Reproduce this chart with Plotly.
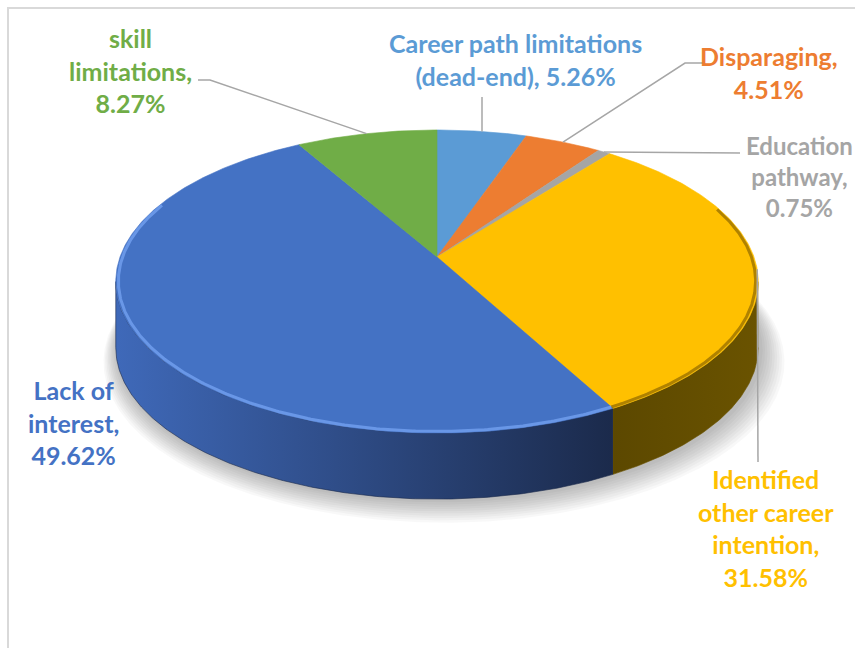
import numpy as np
import plotly.graph_objects as go

# ---- data -------------------------------------------------------------
categories = [
    "Career path limitations (dead-end)",
    "Disparaging",
    "Education pathway",
    "Identified other career intention",
    "Lack of interest",
    "skill limitations",
]
shares = [5.26, 4.51, 0.75, 31.58, 49.62, 8.27]

# label text, broken onto lines, and the joiner placed before the value
label_names = [
    "Career path limitations<br>(dead-end)",
    "Disparaging",
    "Education<br>pathway",
    "Identified<br>other career<br>intention",
    "Lack of<br>interest",
    "skill<br>limitations",
]
label_joiners = [", ", ",<br>", ",<br>", ",<br>", ",<br>", ",<br>"]

# ---- styling -----------------------------------------------------------
top_colors = ["#5B9BD5", "#ED7D31", "#A5A5A5", "#FFC000", "#4472C4", "#70AD47"]
side_colors = [
    ("#3D6E9C", "#213F5C"),
    ("#A6561F", "#5E2F10"),
    ("#7A7A7A", "#4A4A4A"),
    ("#5C4800", "#6A5300"),
    ("#3F69B9", "#1B2A4B"),
    ("#4F7B31", "#2C451B"),
]
rim_colors = ["#7AB0E2", "#F39A5E", "#BEBEBE", "rgba(150,110,0,0.75)",
              "rgba(110,155,235,0.9)", "#8CC366"]
label_colors = top_colors
label_sizes = [25, 25, 24, 25, 25, 25]

# label block centres and leader-line bend points (label side first)
label_pos = [(515, 59), (769, 72), (799, 176), (766, 528), (73, 422), (130, 70)]
leader_pts = [
    [(482, 97)],
    [(703, 63), (685, 63)],
    [(740, 153)],
    [(758, 462)],
    None,
    [(198, 80), (210, 80)],
]

W, H = 855, 648
CX, CY = 437, 257        # projected pie centre
A, B = 317.0, 147.6      # horizontal / depth radii of the disc
K = 0.162                # perspective strength
DEPTH = 66               # thickness of the pie
RIM_FROM, RIM_TO = 70.0, 292.0   # angular span of the bevel highlight


def proj(theta_deg, r=1.0):
    t = np.radians(theta_deg)
    u = r * np.sin(t)
    v = r * np.cos(t)
    s = 1.0 / (1.0 + K * v)
    return CX + A * u * s, CY - B * v * s


def arc(t1, t2, r=1.0, n_per_deg=2):
    n = max(int(abs(t2 - t1) * n_per_deg), 2)
    th = np.linspace(t1, t2, n)
    return proj(th, r)


total = sum(shares)
bounds = np.concatenate([[0], np.cumsum(shares) / total * 360.0])
sil = np.degrees(np.arccos(-K))           # right silhouette angle
vis_lo, vis_hi = sil, 360.0 - sil         # visible part of the side wall

fig = go.Figure()

# soft drop shadow under the pie
bx, by = arc(0, 360)
for i in range(10, 0, -1):
    sc = 1 + 0.006 * i
    sx = CX + (bx - CX) * sc + 2 + 0.5 * i
    sy = CY + DEPTH + (by - CY) * sc + 1 + 1.2 * i
    fig.add_trace(go.Scatter(x=sx, y=sy, mode="lines", fill="toself",
                             fillcolor="rgba(0,0,0,0.028)", line=dict(width=0),
                             hoverinfo="skip", showlegend=False))

# side walls
for i in range(len(shares)):
    a = max(bounds[i], vis_lo)
    b = min(bounds[i + 1], vis_hi)
    if a >= b:
        continue
    tx, ty = arc(a, b)
    xs = np.concatenate([tx, tx[::-1]])
    ys = np.concatenate([ty, ty[::-1] + DEPTH])
    c0, c1 = side_colors[i]
    fig.add_trace(go.Scatter(x=xs, y=ys, mode="lines", fill="toself",
                             fillgradient=dict(type="horizontal",
                                               colorscale=[[0, c0], [1, c1]]),
                             line=dict(width=0.6, color=c1),
                             hoverinfo="skip", showlegend=False))

# top face slices
for i in range(len(shares)):
    ax_, ay_ = arc(bounds[i], bounds[i + 1])
    xs = np.concatenate([[CX], ax_, [CX]])
    ys = np.concatenate([[CY], ay_, [CY]])
    fig.add_trace(go.Scatter(x=xs, y=ys, mode="lines", fill="toself",
                             fillcolor=top_colors[i],
                             line=dict(width=0.6, color=top_colors[i]),
                             name=categories[i], hoverinfo="name", showlegend=False))

# bevel rim just inside the front edge of the top face
for i in range(len(shares)):
    a = max(bounds[i], RIM_FROM)
    b = min(bounds[i + 1], RIM_TO)
    if a >= b:
        continue
    tx, ty = arc(a, b, r=0.992)
    fig.add_trace(go.Scatter(x=tx, y=ty, mode="lines",
                             line=dict(width=3, color=rim_colors[i]),
                             hoverinfo="skip", showlegend=False))

# leader lines from each slice edge midpoint to its label
for i in range(len(shares)):
    if leader_pts[i] is None:
        continue
    mid = (bounds[i] + bounds[i + 1]) / 2
    ex, ey = proj(mid)
    pts = leader_pts[i] + [(float(ex), float(ey))]
    fig.add_trace(go.Scatter(x=[p[0] for p in pts], y=[p[1] for p in pts],
                             mode="lines", line=dict(width=1.5, color="#A6A6A6"),
                             hoverinfo="skip", showlegend=False))

# data labels
for i in range(len(shares)):
    text = f"{label_names[i]}{label_joiners[i]}{shares[i]:.2f}%"
    fig.add_annotation(x=label_pos[i][0], y=label_pos[i][1], text=text,
                       showarrow=False, xanchor="center", yanchor="middle",
                       align="center",
                       font=dict(family="Lato", size=label_sizes[i],
                                 color=label_colors[i], weight="bold"))

# chart area border
fig.add_shape(type="rect", x0=8, y0=8, x1=W + 40, y1=H + 40,
              line=dict(color="#D9D9D9", width=2), fillcolor="rgba(0,0,0,0)",
              layer="below")

fig.update_layout(
    width=W, height=H,
    margin=dict(l=0, r=0, t=0, b=0),
    paper_bgcolor="white", plot_bgcolor="white",
    xaxis=dict(range=[0, W], visible=False, fixedrange=True),
    yaxis=dict(range=[H, 0], visible=False, fixedrange=True),
    showlegend=False,
)

fig.write_html("out.html")
